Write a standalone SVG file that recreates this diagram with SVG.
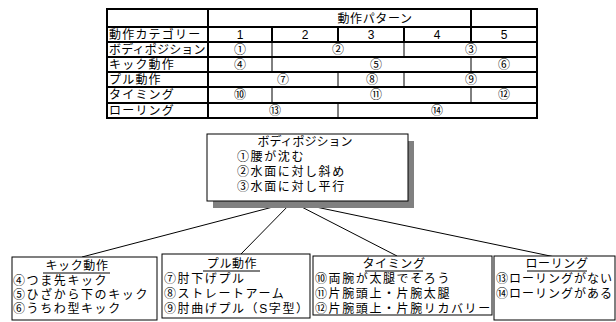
<svg xmlns="http://www.w3.org/2000/svg" width="616" height="322" viewBox="0 0 616 322">
<style>
text{font-family:"Liberation Sans","Noto Sans CJK JP",sans-serif;fill:#000}
.t{font-size:12px}
.l{font-size:12px;letter-spacing:1.2px}
.c{text-anchor:middle}
.b{font-size:12px;letter-spacing:1.6px}
.h{letter-spacing:0.6px;text-anchor:middle}
.thick{stroke:#000;stroke-width:2;fill:none}
.thin{stroke:#000;stroke-width:1;fill:none}
.box{fill:#fff;stroke:#000;stroke-width:1}
.conn{stroke:#000;stroke-width:1;fill:none}
.ul{stroke:#000;stroke-width:1}
</style>
<rect width="616" height="322" fill="#fff"/>
<g id="table">
<rect x="107" y="9" width="430" height="109" class="thick"/>
<path class="thick" d="M107 27H537M107 42H537M107 57H537M107 72H537M107 87H537M107 103H537"/>
<path class="thick" d="M208 9V118M471 9V42M272 27V42M338 27V42M404 27V42"/>
<path class="thin" d="M272 42V57M404 42V57M272 57V72M471 57V72M338 72V87M404 72V87M272 87V103M471 87V103M338 103V118"/>
<text class="t c" x="375" y="23" style="letter-spacing:0.6px">動作パターン</text>
<text class="l" x="109" y="39">動作カテゴリー</text>
<text class="t" x="109" y="54" style="letter-spacing:0.2px">ボディポジション</text>
<text class="l" x="109" y="69">キック動作</text>
<text class="l" x="109" y="84">プル動作</text>
<text class="l" x="109" y="99">タイミング</text>
<text class="l" x="109" y="115">ローリング</text>
<g class="t c">
<text x="240" y="39">1</text><text x="305" y="39">2</text><text x="371" y="39">3</text><text x="437" y="39">4</text><text x="504" y="39">5</text>
<text x="240" y="54">①</text><text x="338" y="54">②</text><text x="471" y="54">③</text>
<text x="240" y="69">④</text><text x="376" y="69">⑤</text><text x="504" y="69">⑥</text>
<text x="283" y="84">⑦</text><text x="372" y="84">⑧</text><text x="471" y="84">⑨</text>
<text x="240" y="99">⑩</text><text x="376" y="99">⑪</text><text x="504" y="99">⑫</text>
<text x="275" y="115">⑬</text><text x="437" y="115">⑭</text>
</g>
</g>
<g id="connectors">
<path class="conn" d="M292 202L82 257M292 202L240 255M292 202L397 256M292 202L555 257"/>
</g>
<g id="bodyposition">
<rect x="213" y="141" width="201" height="67" fill="#808080"/>
<rect x="207" y="134" width="201" height="67" class="box"/>
<text class="t"><tspan class="c" x="305" y="146">ボディポジション</tspan><tspan class="b" x="237" y="161">①腰が沈む</tspan><tspan class="b" x="237" y="176">②水面に対し斜め</tspan><tspan class="b" x="237" y="191">③水面に対し平行</tspan></text>
</g>
<g id="kick">
<rect x="12" y="257" width="145" height="63" class="box"/>
<line class="ul" x1="43" y1="273" x2="110" y2="273"/>
<text class="t"><tspan class="h" x="77" y="270">キック動作</tspan><tspan class="b" x="13" y="285">④つま先キック</tspan><tspan class="b" x="13" y="299">⑤ひざから下のキック</tspan><tspan class="b" x="13" y="313">⑥うちわ型キック</tspan></text>
</g>
<g id="pull">
<rect x="162" y="254" width="148" height="64" class="box"/>
<line class="ul" x1="203" y1="271" x2="260" y2="271"/>
<text class="t"><tspan class="h" x="232" y="268">プル動作</tspan><tspan class="b" x="164" y="283">⑦肘下げプル</tspan><tspan class="b" x="164" y="298">⑧ストレートアーム</tspan><tspan class="b" x="164" y="313">⑨肘曲げプル（S字型）</tspan></text>
</g>
<g id="timing">
<rect x="313" y="256" width="179" height="59" class="box"/>
<line class="ul" x1="365" y1="271" x2="423" y2="271"/>
<text class="t"><tspan class="h" x="394" y="268">タイミング</tspan><tspan class="b" x="315" y="283">⑩両腕が太腿でそろう</tspan><tspan class="b" x="315" y="298">⑪片腕頭上・片腕太腿</tspan><tspan class="b" x="315" y="313">⑫片腕頭上・片腕リカバリー</tspan></text>
</g>
<g id="rolling">
<rect x="494" y="256" width="121" height="64" class="box"/>
<line class="ul" x1="527" y1="271" x2="587" y2="271"/>
<text class="t"><tspan class="h" x="557" y="268">ローリング</tspan><tspan x="496" y="283" style="letter-spacing:1px">⑬ローリングがない</tspan><tspan x="496" y="298" style="letter-spacing:1px">⑭ローリングがある</tspan></text>
</g>
</svg>
